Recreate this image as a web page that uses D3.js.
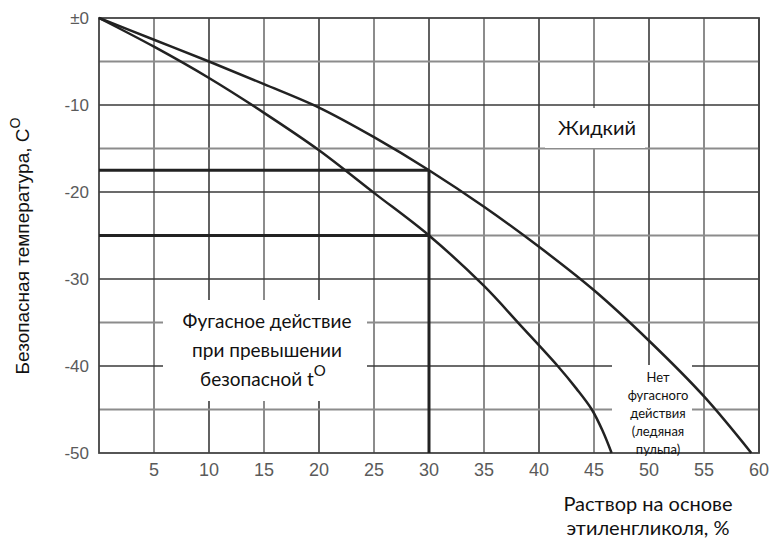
<!DOCTYPE html>
<html><head><meta charset="utf-8">
<script src="https://cdn.jsdelivr.net/npm/d3@7"></script>
<style>body{margin:0;background:#fff}svg{display:block}</style>
</head><body>
<svg id="c" width="771" height="538"></svg>
<script>
// ---- data ----
const xTicks = [5,10,15,20,25,30,35,40,45,50,55,60];
const yTicks = [0,-10,-20,-30,-40,-50];
const yTickLabels = ["±0","-10","-20","-30","-40","-50"];
const gridX = [5,10,15,20,25,30,35,40,45,50,55,60];
const gridY = [-5,-10,-15,-20,-25,-30,-35,-40,-45];
// upper curve (boundary of liquid state)
const upperX = [0,5,10,15,20,25,30,35,40,45,50,55,59.3];
const upperY = [0,-2.5,-5,-7.6,-10.3,-13.7,-17.5,-21.7,-26.3,-31.3,-37.1,-43.5,-50];
// lower curve (safe temperature)
const lowerX = [0,5,10,15,20,25,30,35,38.3,41.7,43.4,44.8,45.8,46.6];
const lowerY = [0,-3.3,-6.9,-10.9,-15.2,-20.1,-25,-30.8,-35.3,-40,-42.6,-45,-47.5,-50];
// example reading lines
const exampleX = 30;
const exampleY = [-17.5,-25];

const svg = d3.select("#c");
const m = {l:99, t:18, r:759, b:453};
const x = d3.scaleLinear().domain([0,60]).range([m.l,m.r]);
const y = d3.scaleLinear().domain([0,-50]).range([m.t,m.b]);

// grid
const g = svg.append("g");
gridX.forEach(v=>{
  const major = v%10===0;
  g.append("line").attr("x1",x(v)).attr("x2",x(v)).attr("y1",y(0)).attr("y2",y(-50))
   .attr("stroke", major?"#3a3a3a":"#8c8c8c").attr("stroke-width", major?1.6:2);
});
gridY.forEach(v=>{
  const major = v%10===0;
  g.append("line").attr("x1",x(0)).attr("x2",x(60)).attr("y1",y(v)).attr("y2",y(v))
   .attr("stroke", major?"#3a3a3a":"#8c8c8c").attr("stroke-width", major?1.6:2);
});
// frame
g.append("rect").attr("x",x(0)).attr("y",y(0)).attr("width",x(60)-x(0)).attr("height",y(-50)-y(0))
 .attr("fill","none").attr("stroke","#444").attr("stroke-width",1.8);

// white boxes behind labels
const boxes = [[163,300,204,101],[545,108,100,40],[612,365,80,87]];
boxes.forEach(b=>svg.append("rect").attr("x",b[0]).attr("y",b[1]).attr("width",b[2]).attr("height",b[3]).attr("fill","#fff"));

// example lines
exampleY.forEach(v=>{
  svg.append("line").attr("x1",x(0)).attr("x2",x(exampleX)).attr("y1",y(v)).attr("y2",y(v))
   .attr("stroke","#222").attr("stroke-width",3);
});
svg.append("line").attr("x1",x(exampleX)).attr("x2",x(exampleX)).attr("y1",y(d3.max(exampleY))).attr("y2",y(-50))
 .attr("stroke","#222").attr("stroke-width",3);

// curves
const line = d3.line().x(d=>x(d[0])).y(d=>y(d[1])).curve(d3.curveCatmullRom.alpha(0.5));
[[upperX,upperY],[lowerX,lowerY]].forEach(([xs,ys])=>{
  svg.append("path").attr("d", line(xs.map((v,i)=>[v,ys[i]])))
   .attr("fill","none").attr("stroke","#222").attr("stroke-width",2.5);
});

// tick labels
const tickFont = "'Liberation Sans', Arial, sans-serif";
xTicks.forEach(v=>{
  svg.append("text").attr("x",x(v)).attr("y",476).attr("text-anchor","middle")
   .attr("font-family",tickFont).attr("font-size",18).attr("fill","#5a5a5a").text(v);
});
yTicks.forEach((v,i)=>{
  svg.append("text").attr("x",89).attr("y",y(v)+6).attr("text-anchor","end")
   .attr("font-family",tickFont).attr("font-size",17).attr("fill","#5a5a5a").text(yTickLabels[i]);
});

// y axis title
const yt = svg.append("text").attr("transform","translate(29,246) rotate(-90)").attr("text-anchor","middle")
  .attr("font-family",tickFont).attr("font-size",19).attr("fill","#111");
yt.append("tspan").text("Безопасная температура, С");
yt.append("tspan").attr("font-size",14).attr("dy",-9).text("O");

// annotation font
const af = "Lato, 'Open Sans', sans-serif";
function lines(cx, ys, arr, fs){
  arr.forEach((t,i)=>svg.append("text").attr("x",cx).attr("y",ys[i]).attr("text-anchor","middle")
    .attr("font-family",af).attr("font-size",fs).attr("fill","#111").text(t));
}
lines(648,[511,535],["Раствор на основе","этиленгликоля, %"],20);
lines(597,[135],["Жидкий"],20);
lines(267,[328,357],["Фугасное действие","при превышении"],19);
const sb = svg.append("text").attr("x",263).attr("y",386).attr("text-anchor","middle")
  .attr("font-family",af).attr("font-size",19).attr("fill","#111");
sb.append("tspan").text("безопасной t");
sb.append("tspan").attr("font-size",15).attr("dy",-10).text("O");
lines(658,[382,400,418,436,454],["Нет","фугасного","действия","(ледяная","пульпа)"],13);
</script>
</body></html>
